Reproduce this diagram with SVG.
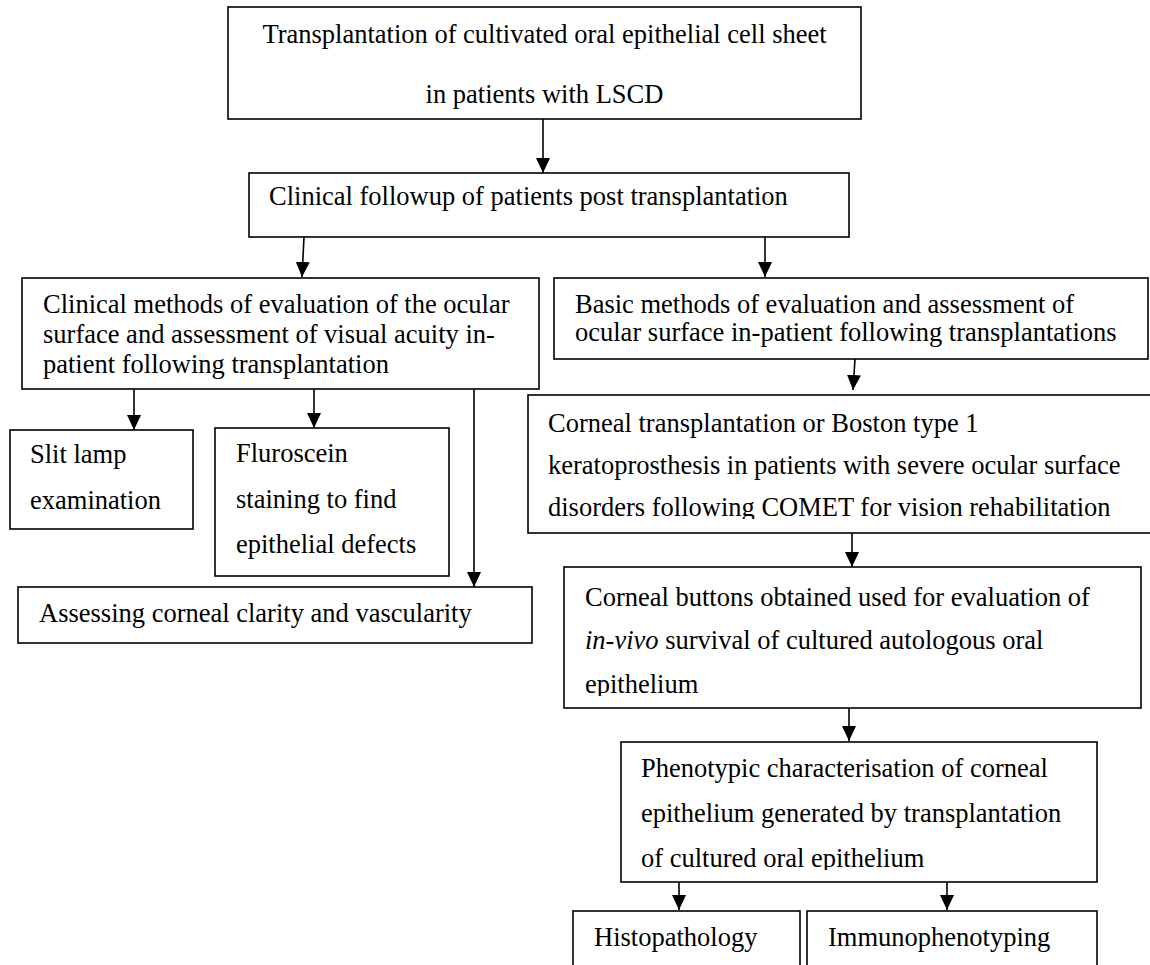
<svg xmlns="http://www.w3.org/2000/svg" width="1150" height="965" viewBox="0 0 1150 965">
<style>
.box{fill:#fff;stroke:#000;stroke-width:1.6}
.t{font-family:"Liberation Serif","Times New Roman",serif;font-size:26.5px;fill:#000}
.c{stroke:#000;stroke-width:1.6;fill:none;marker-end:url(#ah)}
</style>
<defs>
<marker id="ah" markerUnits="userSpaceOnUse" markerWidth="15" markerHeight="14" refX="15" refY="7" orient="auto" viewBox="0 0 15 14">
<path d="M0,0 L15,7 L0,14 Z" fill="#000"/>
</marker>
<clipPath id="clipA"><rect x="528" y="395" width="622" height="124"/></clipPath>
<clipPath id="clipB"><rect x="564" y="567" width="577" height="129"/></clipPath>
<clipPath id="clipC"><rect x="621" y="742" width="476" height="128"/></clipPath>
</defs>
<g id="connectors">
<line class="c" x1="543" y1="119" x2="543" y2="173"/>
<line class="c" x1="304" y1="237" x2="302" y2="277"/>
<line class="c" x1="765" y1="237" x2="765" y2="277"/>
<line class="c" x1="134" y1="389" x2="134" y2="430"/>
<line class="c" x1="314" y1="389" x2="314" y2="428"/>
<line class="c" x1="474" y1="389" x2="474" y2="587"/>
<line class="c" x1="855" y1="359" x2="853" y2="390"/>
<line class="c" x1="852" y1="533" x2="852" y2="567"/>
<line class="c" x1="849" y1="708" x2="849" y2="741"/>
<line class="c" x1="679" y1="882" x2="679" y2="910"/>
<line class="c" x1="947" y1="882" x2="947" y2="910"/>
</g>
<g id="n1">
<rect class="box" x="228" y="7" width="633" height="112"/>
<text class="t" x="544.5" y="43" text-anchor="middle">Transplantation of cultivated oral epithelial cell sheet</text>
<text class="t" x="544.5" y="103" text-anchor="middle">in patients with LSCD</text>
</g>
<g id="n2">
<rect class="box" x="249" y="173" width="600" height="64"/>
<text class="t" x="269" y="205">Clinical followup of patients post transplantation</text>
</g>
<g id="n3">
<rect class="box" x="22" y="278" width="517" height="111"/>
<text class="t" x="43" y="313">Clinical methods of evaluation of the ocular</text>
<text class="t" x="43" y="343">surface and assessment of visual acuity in-</text>
<text class="t" x="43" y="373">patient following transplantation</text>
</g>
<g id="n4">
<rect class="box" x="554" y="278" width="594" height="81"/>
<text class="t" x="575" y="313">Basic methods of evaluation and assessment of</text>
<text class="t" x="575" y="341">ocular surface in-patient following transplantations</text>
</g>
<g id="n5">
<rect class="box" x="10" y="430" width="183" height="99"/>
<text class="t" x="30" y="463">Slit lamp</text>
<text class="t" x="30" y="509">examination</text>
</g>
<g id="n6">
<rect class="box" x="215" y="428" width="234" height="148"/>
<text class="t" x="236" y="462">Fluroscein</text>
<text class="t" x="236" y="508">staining to find</text>
<text class="t" x="236" y="553">epithelial defects</text>
</g>
<g id="n7">
<rect class="box" x="18" y="587" width="514" height="56"/>
<text class="t" x="39" y="622">Assessing corneal clarity and vascularity</text>
</g>
<g id="n8">
<rect class="box" x="528" y="395" width="630" height="138"/>
<g clip-path="url(#clipA)">
<text class="t" x="548" y="432">Corneal transplantation or Boston type 1</text>
<text class="t" x="548" y="474">keratoprosthesis in patients with severe ocular surface</text>
<text class="t" x="548" y="516">disorders following COMET for vision rehabilitation</text>
</g>
</g>
<g id="n9">
<rect class="box" x="564" y="567" width="577" height="141"/>
<g clip-path="url(#clipB)">
<text class="t" x="585" y="606">Corneal buttons obtained used for evaluation of</text>
<text class="t" x="585" y="649"><tspan font-style="italic">in-vivo</tspan> survival of cultured autologous oral</text>
<text class="t" x="585" y="693">epithelium</text>
</g>
</g>
<g id="n10">
<rect class="box" x="621" y="742" width="476" height="140"/>
<g clip-path="url(#clipC)">
<text class="t" x="641" y="777">Phenotypic characterisation of corneal</text>
<text class="t" x="641" y="822">epithelium generated by transplantation</text>
<text class="t" x="641" y="867">of cultured oral epithelium</text>
</g>
</g>
<g id="n11">
<rect class="box" x="573" y="911" width="227" height="70"/>
<text class="t" x="594" y="946">Histopathology</text>
</g>
<g id="n12">
<rect class="box" x="807" y="911" width="290" height="70"/>
<text class="t" x="828" y="946">Immunophenotyping</text>
</g>
</svg>
